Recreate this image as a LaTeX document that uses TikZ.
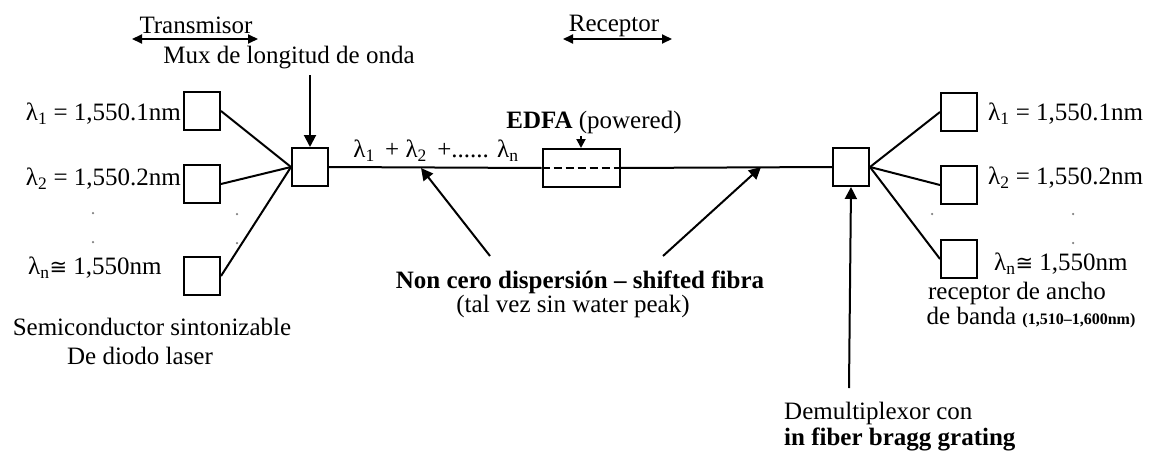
\documentclass[tikz,border=0pt]{standalone}
\usepackage{fontspec}
\setmainfont{Liberation Serif}
\newfontfamily\symf{DejaVu Sans}
\usetikzlibrary{arrows.meta}
\begin{document}
\begin{tikzpicture}[x=1pt,y=-1pt,font=\fontsize{25}{28}\selectfont,
  box/.style={draw,line width=2pt,minimum width=36pt,minimum height=38pt,inner sep=0pt},
  ln/.style={line width=2pt},
  arr/.style={line width=2pt,-{Triangle[length=12pt,width=12pt]}},
  darr/.style={line width=2pt,{Triangle[length=10pt,width=9pt]}-{Triangle[length=10pt,width=9pt]}},
  lbl/.style={inner sep=0pt},
  dotm/.style={fill=gray,circle,inner sep=0pt,minimum size=2.5pt}]
\useasboundingbox (0,0) rectangle (1149,458);
% boxes
\node[box] (t1) at (202,111) {};
\node[box] (t2) at (202,184) {};
\node[box] (t3) at (202,276) {};
\node[box] (mux) at (310,167) {};
\node[draw,line width=2pt,minimum width=77pt,minimum height=38pt,inner sep=0pt] (edfa) at (581,168) {};
\node[box] (dmx) at (851,167) {};
\node[box] (r1) at (959,112) {};
\node[box] (r2) at (959,185) {};
\node[box] (r3) at (959,259) {};
% connections
\draw[ln] (t1.east) -- (mux.west);
\draw[ln] (t2.east) -- (mux.west);
\draw[ln] (t3.east) -- (mux.west);
\draw[ln] (mux.east) -- (edfa.west);
\draw[ln] (edfa.east) -- (dmx.west);
\draw[line width=1.4pt,dash pattern=on 8pt off 4pt] (edfa.west) -- (edfa.east);
\draw[ln] (dmx.east) -- (r1.west);
\draw[ln] (dmx.east) -- (r2.west);
\draw[ln] (dmx.east) -- (r3.west);
% top labels
\node[lbl] (tx) at (196,25) {Transmisor};
\coordinate (txa) at (132,39);
\coordinate (txb) at (258,39);
\draw[darr] (txa) -- (txb);
\node[lbl] (rx) at (614,26) {Receptor};
\coordinate (rxa) at (563,39);
\coordinate (rxb) at (672,39);
\draw[darr] (rxa) -- (rxb);
\node[lbl] (muxl) at (289,58) {Mux de longitud de onda};
\coordinate (muxa) at (310,75);
\draw[arr] (muxa) -- (mux.north);
% left labels
\node[lbl,anchor=east] (l1) at (181,114) {λ\textsubscript{1} = 1,550.1nm};
\node[lbl,anchor=east] (l2) at (181,179) {λ\textsubscript{2} = 1,550.2nm};
\node[lbl,anchor=west] (ln) at (28,268) {λ\textsubscript{n}{\symf\fontsize{21}{25}\selectfont ≅} 1,550nm};
\node[dotm] (d1) at (93,213) {};
\node[dotm] (d2) at (93,242) {};
\node[dotm] (d3) at (237,214) {};
\node[dotm] (d4) at (237,243) {};
\node[lbl] (semi) at (152,327) {Semiconductor sintonizable};
\node[lbl] (diodo) at (140,356) {De diodo laser};
% fiber
\node[lbl] (sum) at (436,151) {λ\textsubscript{1} \,+ λ\textsubscript{2} \,+...... λ\textsubscript{n}};
\node[lbl] (edfal) at (594,122) {\textbf{EDFA} (powered)};
\coordinate (edfaa) at (581,136);
\draw[line width=2pt,-{Triangle[length=9pt,width=9pt]}] (edfaa) -- (edfa.north);
\node[lbl] (nc) at (580,282) {\textbf{Non cero dispersión – shifted fibra}};
\node[lbl] (tal) at (573,306) {(tal vez sin water peak)};
\coordinate (nca) at (490,256);
\coordinate (ncb) at (663,256);
\coordinate (fa) at (421,168);
\coordinate (fb) at (761,167);
\draw[arr] (nca) -- (fa);
\draw[arr] (ncb) -- (fb);
% right labels
\node[lbl,anchor=west] (q1) at (988,114) {λ\textsubscript{1} = 1,550.1nm};
\node[lbl,anchor=west] (q2) at (988,178) {λ\textsubscript{2} = 1,550.2nm};
\node[lbl,anchor=west] (qn) at (994,264) {λ\textsubscript{n}{\symf\fontsize{21}{25}\selectfont ≅} 1,550nm};
\node[dotm] (e1) at (1073,214) {};
\node[dotm] (e2) at (1073,243) {};
\node[dotm] (e3) at (932,214) {};
\node[lbl] (rec1) at (1017,293) {receptor de ancho};
\node[lbl] (rec2) at (1031,318) {de banda {\fontsize{16}{18}\selectfont\textbf{(1,510–1,600nm)}}};
% demux arrow
\coordinate (dma) at (849,388);
\draw[arr] (dma) -- (dmx.south);
\node[lbl,anchor=west] (dm1) at (784,413) {Demultiplexor con};
\node[lbl,anchor=west] (dm2) at (784,439) {\textbf{in fiber bragg grating}};
\end{tikzpicture}
\end{document}
